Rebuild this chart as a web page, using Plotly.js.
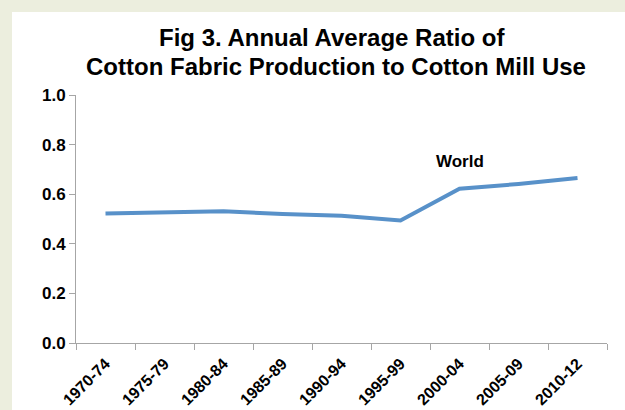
<!DOCTYPE html>
<html>
<head>
<meta charset="utf-8">
<script src="https://cdn.plot.ly/plotly-3.0.1.min.js"></script>
<style>
  html, body { margin: 0; padding: 0; background: #eceede; width: 625px; height: 410px; overflow: hidden; }
  #chart { position: absolute; left: 12px; top: 12px; width: 613px; height: 398px; }
</style>
</head>
<body>
<div id="chart"></div>
<script>
const periods = ["1970-74", "1975-79", "1980-84", "1985-89", "1990-94", "1995-99", "2000-04", "2005-09", "2010-12"];
const worldRatio = [0.522, 0.525, 0.531, 0.52, 0.513, 0.494, 0.622, 0.641, 0.665];
const yTicks = [0, 0.2, 0.4, 0.6, 0.8, 1.0];
const seriesLabel = "World";
const titleLines = ["Fig 3. Annual Average Ratio of", "Cotton Fabric Production to Cotton Mill Use"];

const font = "Liberation Sans, Arial, sans-serif";

const trace = {
  x: periods,
  y: worldRatio,
  type: "scatter",
  mode: "lines",
  line: { color: "#5891c9", width: 4 },
  hoverinfo: "skip"
};

const titleAnnots = [
  { text: titleLines[0], x: 0.483, y: 1.23 },
  { text: titleLines[1], x: 0.49, y: 1.114 }
].map(t => ({
  x: t.x, y: t.y, xref: "paper", yref: "paper",
  xanchor: "center", yanchor: "middle",
  text: "<b>" + t.text + "</b>",
  showarrow: false,
  font: { family: font, size: 24, color: "#000000" }
}));

const layout = {
  width: 613,
  height: 398,
  paper_bgcolor: "#ffffff",
  plot_bgcolor: "#ffffff",
  margin: { l: 64, r: 18, t: 83, b: 67 },
  showlegend: false,
  font: { family: font, color: "#000000" },
  xaxis: {
    type: "category",
    range: [-0.5, periods.length - 0.5],
    tickson: "boundaries",
    ticks: "outside",
    ticklen: 6,
    tickcolor: "#a6a6a6",
    showline: true,
    linecolor: "#a6a6a6",
    linewidth: 1,
    showgrid: false,
    zeroline: false,
    tickangle: -45,
    ticklabelstandoff: 4,
    tickfont: { family: font, size: 16, color: "#000000", weight: "bold" }
  },
  yaxis: {
    range: [0, 1],
    tickvals: yTicks,
    tickformat: ".1f",
    ticks: "outside",
    ticklen: 6,
    tickcolor: "#a6a6a6",
    showline: true,
    linecolor: "#a6a6a6",
    linewidth: 1,
    showgrid: false,
    zeroline: false,
    tickfont: { family: font, size: 17, color: "#000000", weight: "bold" }
  },
  annotations: titleAnnots.concat([{
    x: periods[6], y: 0.73, xref: "x", yref: "y",
    text: "<b>" + seriesLabel + "</b>",
    showarrow: false,
    font: { family: font, size: 17, color: "#000000" }
  }])
};

Plotly.newPlot("chart", [trace], layout, { displayModeBar: false, staticPlot: true });
</script>
</body>
</html>
